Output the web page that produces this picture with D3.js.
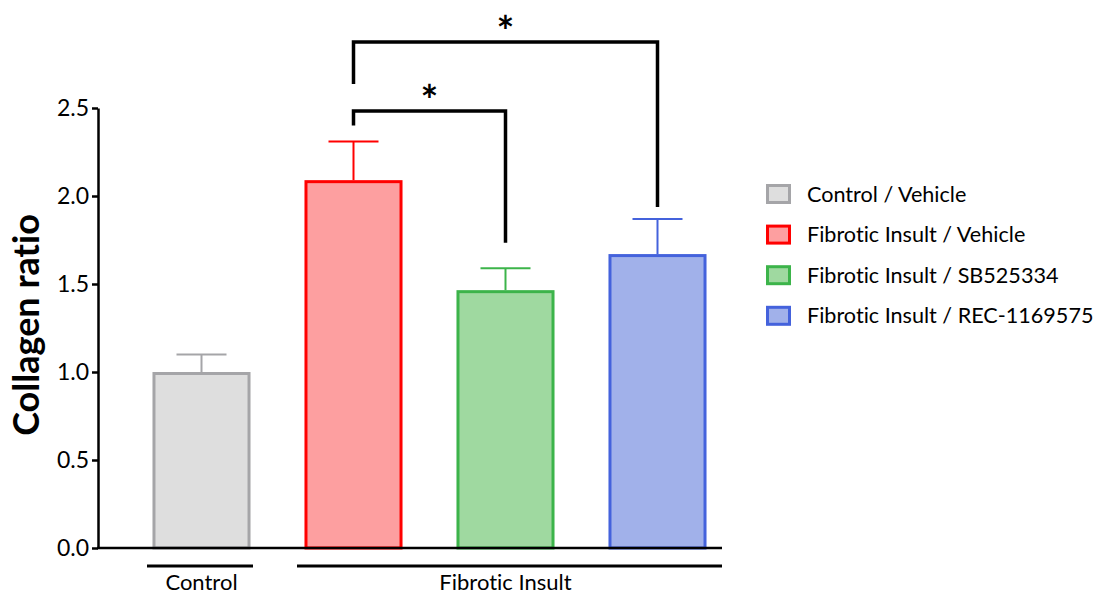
<!DOCTYPE html>
<html>
<head>
<meta charset="utf-8">
<script src="https://cdn.jsdelivr.net/npm/d3@7"></script>
<style>
  html, body { margin: 0; padding: 0; background: #fff; }
  svg { display: block; font-family: Lato, "Open Sans", sans-serif; font-variant-ligatures: none; }
</style>
</head>
<body>
<svg id="chart" width="1098" height="595"></svg>
<script>
// Groups and their mean collagen ratio with the upper SEM bound
const groups = ["Control / Vehicle", "Fibrotic Insult / Vehicle", "Fibrotic Insult / SB525334", "Fibrotic Insult / REC-1169575"];
const means = [1.0, 2.09, 1.465, 1.67];
const upper = [1.10, 2.31, 1.59, 1.87];
const strokes = ["#a5a5a8", "#ff0000", "#3cb44a", "#4462dc"];
const fills = ["#dedede", "#fd9fa0", "#9fd9a0", "#a1b1ea"];
const yTicks = [0, 0.5, 1.0, 1.5, 2.0, 2.5];

// Significance brackets: [from group, to group, bracket level, left leg end, right leg end]
const comparisons = [
  [1, 2, 2.483, 2.40, 1.735],
  [1, 3, 2.875, 2.636, 1.9375]
];
// Treatment categories shown under the axis: [first group, last group]
const categoryNames = ["Control", "Fibrotic Insult"];
const categorySpans = [[0, 0], [1, 3]];

const svg = d3.select("#chart");

const y = d3.scaleLinear().domain([0, 2.5]).range([548, 108]);
const x = d3.scaleBand().domain(d3.range(groups.length))
  .range([125.5, 733.5]).paddingInner(0.355).paddingOuter(0.1775);

// Bars
const barStroke = 3;
svg.append("g").selectAll("rect").data(means).join("rect")
  .attr("x", (d, i) => x(i) + barStroke / 2)
  .attr("width", x.bandwidth() - barStroke)
  .attr("y", d => y(d) + barStroke / 2)
  .attr("height", d => y(0) - y(d) - barStroke / 2)
  .attr("fill", (d, i) => fills[i])
  .attr("stroke", (d, i) => strokes[i])
  .attr("stroke-width", barStroke);

// Error bars (upper only)
const capHalf = 25;
const err = svg.append("g");
means.forEach((m, i) => {
  const cx = x(i) + x.bandwidth() / 2;
  err.append("line")
    .attr("x1", cx).attr("x2", cx)
    .attr("y1", y(m)).attr("y2", y(upper[i]))
    .attr("stroke", strokes[i]).attr("stroke-width", 2);
  err.append("line")
    .attr("x1", cx - capHalf).attr("x2", cx + capHalf)
    .attr("y1", y(upper[i])).attr("y2", y(upper[i]))
    .attr("stroke", strokes[i]).attr("stroke-width", 2);
});

// Y axis
const yAxis = svg.append("g")
  .attr("transform", "translate(98,0)")
  .call(d3.axisLeft(y).tickValues(yTicks).tickFormat(d3.format(".1f")).tickSize(6).tickSizeOuter(0).tickPadding(3));
yAxis.select(".domain").attr("stroke", "#000").attr("stroke-width", 2.5);
yAxis.selectAll(".tick line").attr("stroke", "#000").attr("stroke-width", 2.5);
yAxis.selectAll(".tick text")
  .attr("font-family", "Lato, 'Open Sans', sans-serif")
  .attr("font-size", 23).attr("fill", "#000");

// X baseline
svg.append("line")
  .attr("x1", 97).attr("x2", 722)
  .attr("y1", y(0)).attr("y2", y(0))
  .attr("stroke", "#000").attr("stroke-width", 2.5);

// Y title
svg.append("text")
  .attr("transform", "translate(39,325) rotate(-90)")
  .attr("text-anchor", "middle")
  .attr("font-size", 36).attr("font-weight", "bold")
  .attr("fill", "#000")
  .text("Collagen ratio");

// Category lines and labels under the axis
const catG = svg.append("g");
const catEdges = [[147, 253], [297, 722]];
categoryNames.forEach((name, k) => {
  const [a, b] = categorySpans[k];
  catG.append("line")
    .attr("x1", catEdges[k][0]).attr("x2", catEdges[k][1])
    .attr("y1", 566).attr("y2", 566)
    .attr("stroke", "#000").attr("stroke-width", 3);
  catG.append("text")
    .attr("x", (x(a) + x(b) + x.bandwidth()) / 2)
    .attr("y", 590)
    .attr("text-anchor", "middle")
    .attr("font-size", 22).attr("fill", "#000")
    .text(name);
});

// Significance brackets
const brG = svg.append("g");
comparisons.forEach(([a, b, level, legA, legB]) => {
  const xa = x(a) + x.bandwidth() / 2;
  const xb = x(b) + x.bandwidth() / 2;
  brG.append("path")
    .attr("d", `M${xa},${y(legA)} V${y(level)} H${xb} V${y(legB)}`)
    .attr("fill", "none").attr("stroke", "#000")
    .attr("stroke-width", 3.5).attr("stroke-linejoin", "miter");
  brG.append("text")
    .attr("x", (xa + xb) / 2)
    .attr("y", y(level) + 5)
    .attr("text-anchor", "middle")
    .attr("font-size", 42).attr("font-weight", "bold")
    .attr("fill", "#000")
    .text("*");
});

// Legend
const legend = svg.append("g").attr("transform", "translate(766,194)");
groups.forEach((g, i) => {
  const row = legend.append("g").attr("transform", `translate(0,${i * 40.6})`);
  row.append("rect")
    .attr("x", 1.5).attr("y", -8.5).attr("width", 22).attr("height", 17)
    .attr("fill", fills[i]).attr("stroke", strokes[i]).attr("stroke-width", 3);
  row.append("text")
    .attr("x", 41).attr("y", 0).attr("dy", "0.35em")
    .attr("font-size", 21.6).attr("fill", "#000")
    .text(g);
});
</script>
</body>
</html>
